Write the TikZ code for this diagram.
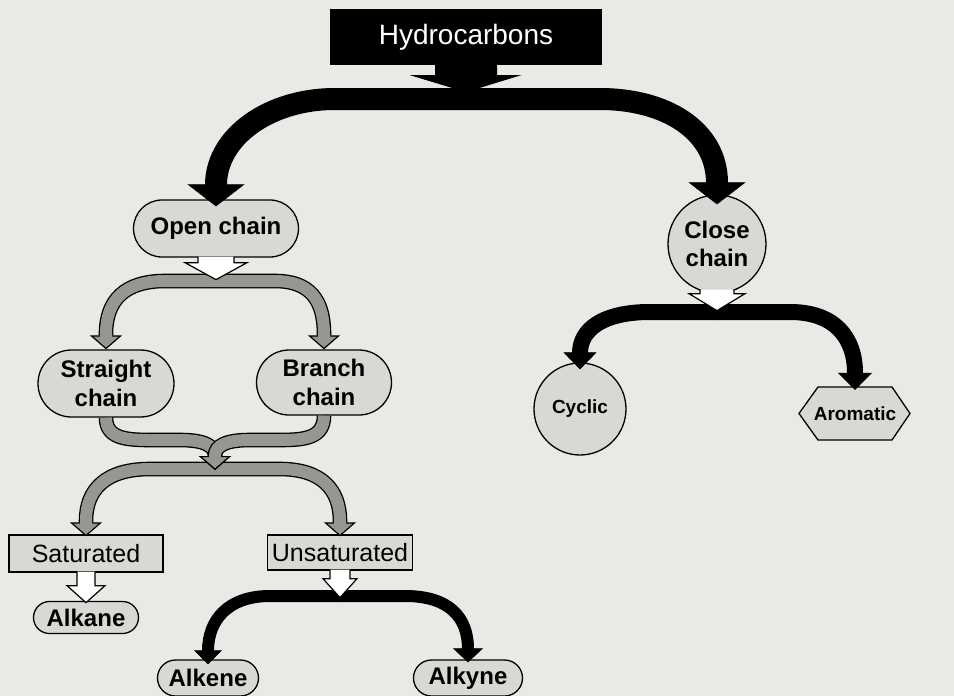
\documentclass[tikz,border=0pt]{standalone}
\usepackage{fontspec}
\setmainfont{Liberation Sans}
\usetikzlibrary{arrows.meta,shapes.misc}

\definecolor{paper}{RGB}{233,233,229}
\definecolor{boxfill}{RGB}{216,216,212}
\definecolor{bandgray}{RGB}{150,150,146}

\tikzset{
  chainbox/.style={rounded rectangle, draw, line width=1.3pt, fill=boxfill, inner sep=0pt,
    align=center, font=\fontsize{24}{29}\selectfont\bfseries},
  typebox/.style={rectangle, draw, line width=1.3pt, fill=boxfill, inner sep=0pt,
    font=\fontsize{25}{28}\selectfont},
  ringbox/.style={circle, draw, line width=1.3pt, fill=boxfill, inner sep=0pt, align=center},
  grayband/.style={line width=12pt, draw=bandgray, shorten >=12.5pt,
    preaction={draw=black, line width=14.6pt, shorten >=0pt,
      -{Triangle[width=32pt,length=14pt,fill=bandgray,line width=1.2pt]}}},
  openhead/.style={draw, line width=1.2pt, fill=white, line join=miter},
}

\begin{document}
\begin{tikzpicture}[x=1pt,y=-1pt]
  % 0. Page
  \useasboundingbox (0,0) rectangle (954,696);
  \fill[paper] (0,0) rectangle (954,696);

  % 1. Top box
  \node[fill=black, text=white, minimum width=272pt, minimum height=56pt, inner sep=0pt,
    font=\fontsize{28}{32}\selectfont] (hydro) at (466,37) {Hydrocarbons};
  \fill[shift={(hydro.south)}] (-31,-1) -- (-31,10) -- (-56,10) -- (0,27) -- (55,10) -- (31,10) -- (31,-1) -- cycle;

  % 2. Open chain side
  \node[chainbox, minimum width=165pt, minimum height=57pt] (open) at (216,228.5) {Open chain};
  \node[chainbox, minimum width=136pt, minimum height=67pt] (straight) at (106,383.5) {Straight\\chain};
  \node[chainbox, minimum width=135pt, minimum height=65pt] (branch) at (324,382.5) {Branch\\chain};
  \node[typebox, minimum width=154pt, minimum height=37pt] (sat) at (86,553.5) {Saturated};
  \node[typebox, minimum width=145pt, minimum height=35pt] (unsat) at (340,552.5) {Unsaturated};
  \node[chainbox, minimum width=105pt, minimum height=32pt] (alkane) at (86,617.5) {Alkane};
  \node[chainbox, minimum width=101pt, minimum height=36pt] (alkene) at (208,678) {Alkene};
  \node[chainbox, minimum width=109pt, minimum height=36pt] (alkyne) at (468,678) {Alkyne};

  % 3. Close chain side
  \node[ringbox, minimum size=98pt, font=\fontsize{24}{28}\selectfont\bfseries] (close) at (717,244) {Close\\chain};
  \node[ringbox, minimum size=92pt, font=\fontsize{19}{22}\selectfont\bfseries] (cyclic) at (580,409) {Cyclic};
  \coordinate (aromc) at (855,413.5);
  \draw[line width=1.3pt, fill=boxfill, shift={(aromc)}]
    (-56,0) -- (-37,-26.5) -- (37,-26.5) -- (55,0) -- (37,26.5) -- (-37,26.5) -- cycle;
  \node[minimum height=53pt, inner sep=0pt, font=\fontsize{19}{22}\selectfont\bfseries] (arom) at (aromc) {Aromatic};

  % 4. Black split below the top box
  \coordinate (fork1) at (466,99);
  \draw[line width=22pt, -{Triangle[width=57pt,length=22pt,line width=0.4pt]}]
    (fork1) -- (335,99) .. controls (269,99) and (216,137) .. (216,185) -- ([yshift=-7pt]open.north);
  \draw[line width=22pt, -{Triangle[width=57pt,length=22pt,line width=0.4pt]}]
    (fork1) -- (600,99) .. controls (665,99) and (717,130) .. (717,183) -- ([yshift=-10pt]close.north);

  % 5. Gray split below Open chain
  \coordinate (fork2) at (216,281);
  \draw[grayband] (fork2) -- (165,281) .. controls (125,281) and (106,300) .. (106,334) -- (straight.north);
  \draw[grayband] (fork2) -- (275,281) .. controls (310,281) and (324,300) .. (324,334) -- (branch.north);
  \draw[openhead, shift={(open.south)}]
    (-18,-1) -- (-18,5) -- (-31,5) -- (0,22) -- (31,5) -- (18,5) -- (18,-1);

  % 6. Gray split to Saturated / Unsaturated, then the merge above it
  \coordinate (fork3) at (215,469);
  \draw[grayband] (fork3) -- (150,469) .. controls (105,469) and (86,490) .. (86,521) -- ([yshift=-2pt]sat.north);
  \draw[grayband] (fork3) -- (280,469) .. controls (322,469) and (340,490) .. (340,521) -- ([yshift=-2pt]unsat.north);
  \draw[grayband] (straight.south) .. controls (106,438) and (125,440) .. (150,440) -- (180,440)
    .. controls (205,440) and (215,446) .. (215,456) -- ([yshift=-1pt]fork3);
  \draw[grayband] (branch.south) .. controls (324,438) and (305,440) .. (280,440) -- (250,440)
    .. controls (225,440) and (215,446) .. (215,456) -- ([yshift=-1pt]fork3);

  % 7. Saturated -> Alkane
  \draw[openhead, shift={(sat.south)}]
    (-9,-1) -- (-9,13) -- (-19,13) -- (0,30) -- (19,13) -- (9,13) -- (9,-1);

  % 8. Black split below Unsaturated
  \coordinate (fork4) at (340,596);
  \draw[line width=12pt, -{Triangle[width=28pt,length=14pt,line width=0.4pt]}]
    (fork4) -- (270,596) .. controls (228,596) and (208,620) .. (208,651) -- ([yshift=-5pt]alkene.north);
  \draw[line width=12pt, -{Triangle[width=30pt,length=14pt,line width=0.4pt]}]
    (fork4) -- (405,596) .. controls (450,596) and (468,618) .. (468,649) -- ([yshift=-3pt]alkyne.north);
  \draw[openhead, shift={(unsat.south)}]
    (-10,-1) -- (-10,8) -- (-17,8) -- (0,27) -- (17,8) -- (10,8) -- (10,-1);

  % 9. Black split below Close chain
  \coordinate (fork5) at (718,312);
  \draw[line width=16pt, -{Triangle[width=33pt,length=17pt,line width=0.4pt]}]
    (fork5) -- (650,312) .. controls (602,312) and (580,330) .. (580,353) -- ([yshift=-7pt]cyclic.north);
  \draw[line width=16pt, -{Triangle[width=34pt,length=17pt,line width=0.4pt]}]
    (fork5) -- (790,312) .. controls (835,312) and (855,338) .. (855,373) -- ([yshift=-3pt]arom.north);
  \draw[openhead, shift={(close.south)}]
    (-17,-4) -- (-17,0) -- (-28,0) -- (0,17) -- (28,0) -- (17,0) -- (17,-4);
\end{tikzpicture}
\end{document}
